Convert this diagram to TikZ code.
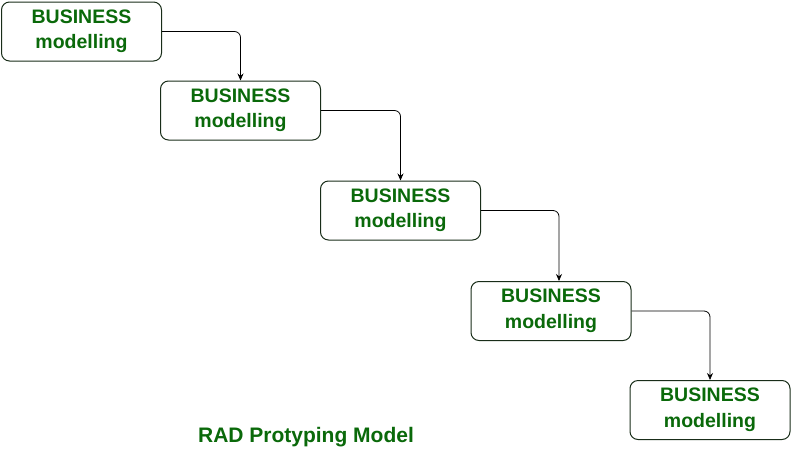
\documentclass[tikz,border=0pt]{standalone}
\usepackage{fontspec}
\setmainfont{Liberation Sans}
\usetikzlibrary{arrows.meta}
\definecolor{phasegreen}{RGB}{10,105,10}
\definecolor{phaseedge}{RGB}{25,45,25}
\begin{document}
\begin{tikzpicture}[x=1pt,y=-1pt,
	phase/.style={draw=phaseedge, line width=1pt, rounded corners=8pt, minimum width=160pt, minimum height=59pt, inner sep=0pt, align=center, text=phasegreen, font=\fontsize{19.5}{25.5}\selectfont\bfseries},
	flow/.style={line width=0.8pt, rounded corners=6pt, -{Stealth[length=7pt,width=6pt]}}]
	\useasboundingbox (0,0) rectangle (793,448);
	\node[phase] (b1) at (81.5,31.5) {BUSINESS\\modelling};
	\node[phase] (b2) at (240.5,110.5) {BUSINESS\\modelling};
	\node[phase] (b3) at (400.5,210.5) {BUSINESS\\modelling};
	\node[phase] (b4) at (551,311) {BUSINESS\\modelling};
	\node[phase] (b5) at (710,410) {BUSINESS\\modelling};
	\draw[flow] (b1.east) -| (b2.north);
	\draw[flow] (b2.east) -| (b3.north);
	\draw[flow] (b3.east) -| ([xshift=8pt]b4.north);
	\draw[flow] (b4.east) -| (b5.north);
	\node[anchor=base, text=phasegreen, font=\fontsize{21}{25}\selectfont\bfseries] (title) at (306,442) {RAD Protyping Model};
\end{tikzpicture}
\end{document}
